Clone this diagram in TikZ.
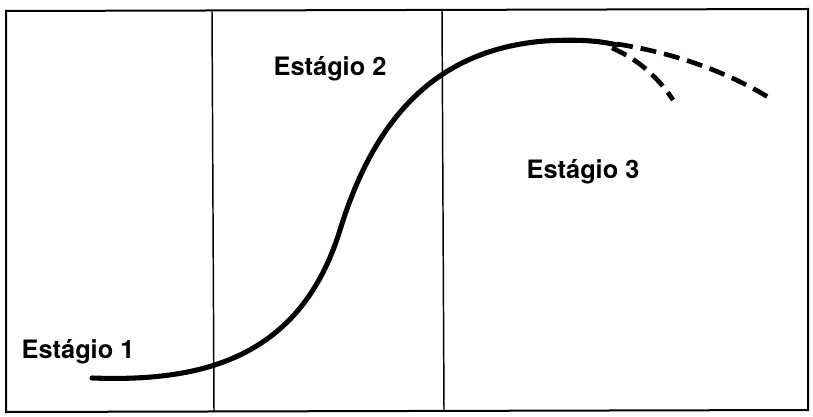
\documentclass[tikz,border=0pt]{standalone}
\usepackage{fontspec}
\setmainfont{TeX Gyre Heros}
\tikzset{every picture/.style={line width=0.75pt}}
\tikzset{stage/.style={font=\fontsize{19}{22}\selectfont\bfseries, inner sep=0.75pt}}
\begin{document}
\begin{tikzpicture}[x=0.75pt,y=0.75pt,yscale=-1,xscale=1]
\useasboundingbox (0,0) rectangle (813,417); %set diagram to 813 x 417

%Shape: Rectangle [id:frame] 
\draw  [line width=1.5]  (6,11) -- (808,9) -- (808,410) -- (6,412) -- cycle ;
%Straight Lines [id:split1] 
\draw  [line width=1.1]  (212,11) -- (214,412) ;
%Straight Lines [id:split2] 
\draw  [line width=1.1]  (442,10) -- (444,411) ;
%Curve Lines [id:growth] 
\draw  [line width=3.8, line cap=round]  (92,378) .. controls (200,382) and (300,360) .. (340,230) .. controls (372,126) and (430,50) .. (545,41) .. controls (580,39) and (600,41) .. (617,45) ;
%Curve Lines [id:upper] 
\draw  [line width=3.5, dash pattern=on 12pt off 6pt]  (617,44) .. controls (680,54) and (730,74) .. (768,97) ;
%Curve Lines [id:lower] 
\draw  [line width=3.5, dash pattern=on 12pt off 6pt]  (612,48) .. controls (640,60) and (660,80) .. (673,100) ;

% Text Node
\draw (78,352) node (est1) [stage]  {Estágio 1};
% Text Node
\draw (330,69) node (est2) [stage]  {Estágio 2};
% Text Node
\draw (583,172) node (est3) [stage]  {Estágio 3};

\end{tikzpicture}
\end{document}
